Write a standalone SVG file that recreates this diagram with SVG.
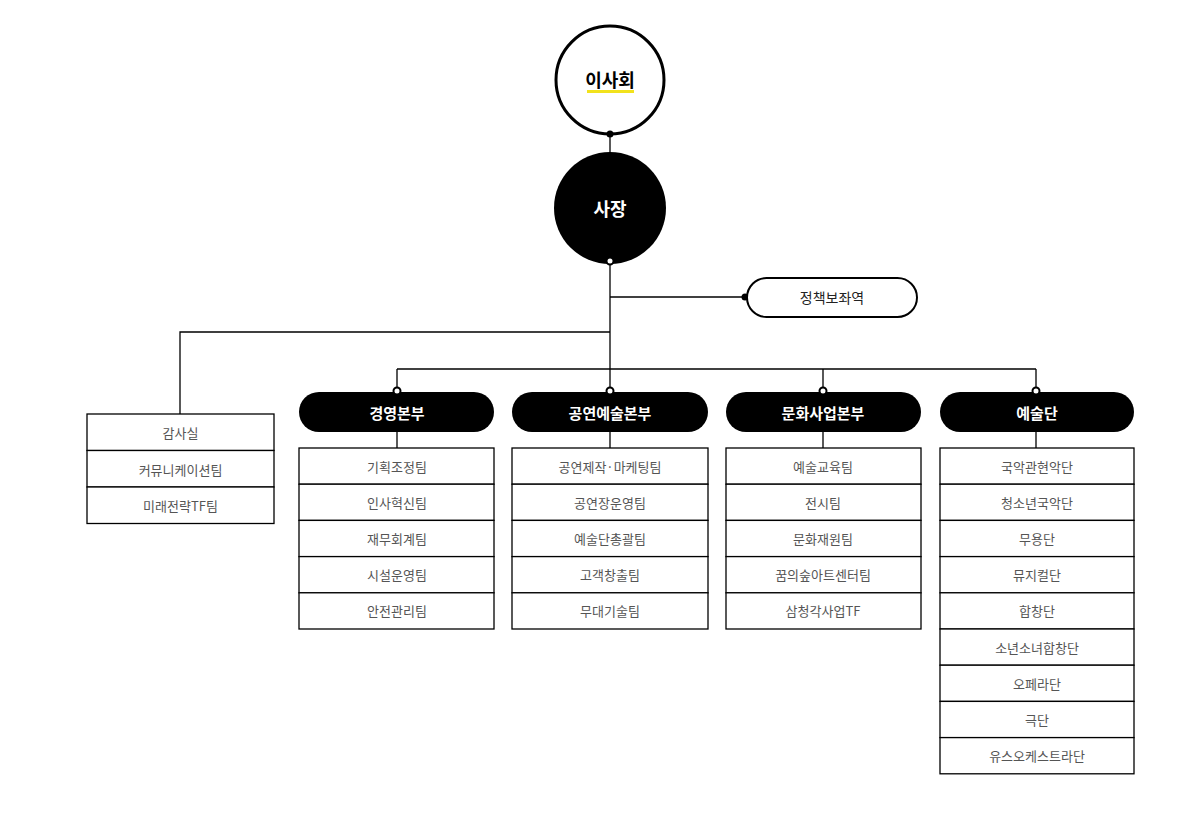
<svg xmlns="http://www.w3.org/2000/svg" width="1202" height="813" viewBox="0 0 1202 813">
<style>
.ln{stroke:#000;stroke-width:1.3;fill:none}
.box{fill:#fff;stroke:#000;stroke-width:1.3}
.pill{fill:#000}
.pt{font-family:"Noto Sans CJK KR","Noto Sans",sans-serif;font-size:15px;font-weight:bold;fill:#fff;text-anchor:middle;dominant-baseline:central}
.bt{font-family:"Noto Sans CJK KR","Noto Sans",sans-serif;font-size:13px;fill:#555;text-anchor:middle;dominant-baseline:central}
.dotw{fill:#fff;stroke:#000;stroke-width:2}
</style>
<rect width="1202" height="813" fill="#fff"/>
<g id="connectors">
<path class="ln" d="M610 134V153"/>
<path class="ln" d="M610 261V369"/>
<path class="ln" d="M610 297H745"/>
<path class="ln" d="M610 332H180V414"/>
<path class="ln" d="M397 369H1036"/>
<path class="ln" d="M397 369V391M823 369V391M1036 369V391M610 369V391"/>
<path class="ln" d="M397 432V448M610 432V448M823 432V448M1036 432V448"/>
<circle cx="745" cy="297" r="3.5" fill="#000"/>
</g>
<g id="board">
<circle cx="610" cy="80" r="54" fill="#fff" stroke="#000" stroke-width="3"/>
<rect x="587" y="90" width="47" height="3" fill="#f2e21c"/>
<text x="610" y="79" font-family="Noto Sans CJK KR,Noto Sans,sans-serif" font-size="18" font-weight="bold" text-anchor="middle" dominant-baseline="central" fill="#000">이사회</text>
<circle cx="610" cy="134" r="3.5" fill="#000"/>
</g>
<g id="president">
<circle cx="610" cy="208" r="56" fill="#000"/>
<text x="610" y="208" font-family="Noto Sans CJK KR,Noto Sans,sans-serif" font-size="18" font-weight="bold" text-anchor="middle" dominant-baseline="central" fill="#fff">사장</text>
<circle cx="610" cy="261" r="3.5" class="dotw"/>
</g>
<g id="policy">
<rect x="747" y="278" width="170" height="39" rx="19.5" fill="#fff" stroke="#000" stroke-width="2"/>
<text x="832" y="297" class="bt" style="fill:#222;font-size:14px">정책보좌역</text>
</g>
<g id="audit">
<rect class="box" x="87" y="414" width="187" height="36.5"/>
<rect class="box" x="87" y="450.5" width="187" height="36.5"/>
<rect class="box" x="87" y="487" width="187" height="36.5"/>
<text class="bt" x="180.5" y="432.5">감사실</text>
<text class="bt" x="180.5" y="469">커뮤니케이션팀</text>
<text class="bt" x="180.5" y="505.5">미래전략TF팀</text>
</g>
<g id="mgmt">
<rect class="pill" x="299" y="392" width="195" height="40" rx="20"/>
<text class="pt" x="397" y="412">경영본부</text>
<circle cx="397" cy="391" r="3.5" class="dotw"/>
<rect class="box" x="299" y="448" width="195" height="36.2"/>
<rect class="box" x="299" y="484.2" width="195" height="36.2"/>
<rect class="box" x="299" y="520.4" width="195" height="36.2"/>
<rect class="box" x="299" y="556.6" width="195" height="36.2"/>
<rect class="box" x="299" y="592.8" width="195" height="36.2"/>
<text class="bt" x="397" y="466">기획조정팀</text>
<text class="bt" x="397" y="502.2">인사혁신팀</text>
<text class="bt" x="397" y="538.4">재무회계팀</text>
<text class="bt" x="397" y="574.6">시설운영팀</text>
<text class="bt" x="397" y="610.8">안전관리팀</text>
</g>
<g id="perf">
<rect class="pill" x="512" y="392" width="196" height="40" rx="20"/>
<text class="pt" x="610" y="412">공연예술본부</text>
<circle cx="610" cy="391" r="3.5" class="dotw"/>
<rect class="box" x="512" y="448" width="196" height="36.2"/>
<rect class="box" x="512" y="484.2" width="196" height="36.2"/>
<rect class="box" x="512" y="520.4" width="196" height="36.2"/>
<rect class="box" x="512" y="556.6" width="196" height="36.2"/>
<rect class="box" x="512" y="592.8" width="196" height="36.2"/>
<text class="bt" x="610" y="466">공연제작·마케팅팀</text>
<text class="bt" x="610" y="502.2">공연장운영팀</text>
<text class="bt" x="610" y="538.4">예술단총괄팀</text>
<text class="bt" x="610" y="574.6">고객창출팀</text>
<text class="bt" x="610" y="610.8">무대기술팀</text>
</g>
<g id="culture">
<rect class="pill" x="726" y="392" width="195" height="40" rx="20"/>
<text class="pt" x="823" y="412">문화사업본부</text>
<circle cx="823" cy="391" r="3.5" class="dotw"/>
<rect class="box" x="726" y="448" width="195" height="36.2"/>
<rect class="box" x="726" y="484.2" width="195" height="36.2"/>
<rect class="box" x="726" y="520.4" width="195" height="36.2"/>
<rect class="box" x="726" y="556.6" width="195" height="36.2"/>
<rect class="box" x="726" y="592.8" width="195" height="36.2"/>
<text class="bt" x="823" y="466">예술교육팀</text>
<text class="bt" x="823" y="502.2">전시팀</text>
<text class="bt" x="823" y="538.4">문화재원팀</text>
<text class="bt" x="823" y="574.6">꿈의숲아트센터팀</text>
<text class="bt" x="823" y="610.8">삼청각사업TF</text>
</g>
<g id="arts">
<rect class="pill" x="940" y="392" width="194" height="40" rx="20"/>
<text class="pt" x="1037" y="412">예술단</text>
<circle cx="1036" cy="391" r="3.5" class="dotw"/>
<rect class="box" x="940" y="448" width="194" height="36.2"/>
<rect class="box" x="940" y="484.2" width="194" height="36.2"/>
<rect class="box" x="940" y="520.4" width="194" height="36.2"/>
<rect class="box" x="940" y="556.6" width="194" height="36.2"/>
<rect class="box" x="940" y="592.8" width="194" height="36.2"/>
<rect class="box" x="940" y="629" width="194" height="36.2"/>
<rect class="box" x="940" y="665.2" width="194" height="36.2"/>
<rect class="box" x="940" y="701.4" width="194" height="36.2"/>
<rect class="box" x="940" y="737.6" width="194" height="36.2"/>
<text class="bt" x="1037" y="466">국악관현악단</text>
<text class="bt" x="1037" y="502.2">청소년국악단</text>
<text class="bt" x="1037" y="538.4">무용단</text>
<text class="bt" x="1037" y="574.6">뮤지컬단</text>
<text class="bt" x="1037" y="610.8">합창단</text>
<text class="bt" x="1037" y="647">소년소녀합창단</text>
<text class="bt" x="1037" y="683.2">오페라단</text>
<text class="bt" x="1037" y="719.4">극단</text>
<text class="bt" x="1037" y="755.6">유스오케스트라단</text>
</g>
</svg>
